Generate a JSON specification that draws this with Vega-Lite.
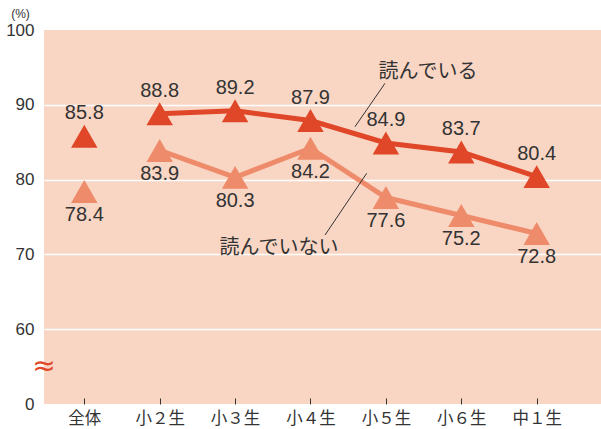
{
  "$schema": "https://vega.github.io/schema/vega-lite/v6.json",
  "width": 557,
  "height": 374,
  "autosize": {"type": "none"},
  "padding": {"left": 44, "top": 30, "right": 0, "bottom": 25},
  "background": "white",
  "view": {"fill": "#F9D6C4", "stroke": null},
  "datasets": {
    "main": [
      {"cat": "全体", "idx": 0, "group": "読んでいる", "value": 85.8},
      {"cat": "小２生", "idx": 1, "group": "読んでいる", "value": 88.8},
      {"cat": "小３生", "idx": 2, "group": "読んでいる", "value": 89.2},
      {"cat": "小４生", "idx": 3, "group": "読んでいる", "value": 87.9},
      {"cat": "小５生", "idx": 4, "group": "読んでいる", "value": 84.9},
      {"cat": "小６生", "idx": 5, "group": "読んでいる", "value": 83.7},
      {"cat": "中１生", "idx": 6, "group": "読んでいる", "value": 80.4},
      {"cat": "全体", "idx": 0, "group": "読んでいない", "value": 78.4},
      {"cat": "小２生", "idx": 1, "group": "読んでいない", "value": 83.9},
      {"cat": "小３生", "idx": 2, "group": "読んでいない", "value": 80.3},
      {"cat": "小４生", "idx": 3, "group": "読んでいない", "value": 84.2},
      {"cat": "小５生", "idx": 4, "group": "読んでいない", "value": 77.6},
      {"cat": "小６生", "idx": 5, "group": "読んでいない", "value": 75.2},
      {"cat": "中１生", "idx": 6, "group": "読んでいない", "value": 72.8}
    ],
    "leaders": [
      {"x": 3.59, "y": 87.07, "x2": 3.988, "y2": 92.87},
      {"x": 3.745, "y": 80.84, "x2": 3.193, "y2": 72.59}
    ],
    "notes": [
      {"x": 4.559, "y": 94.32, "label": "読んでいる"},
      {"x": 2.582, "y": 70.86, "label": "読んでいない"}
    ],
    "brk": [
      {"x": -0.5345, "y": 55.0, "label": "≈"}
    ]
  },
  "encoding": {
    "x": {
      "field": "idx", "type": "quantitative",
      "scale": {"domain": [-0.5345, 6.853], "nice": false, "zero": false},
      "axis": {
        "values": [0, 1, 2, 3, 4, 5, 6],
        "labelExpr": "['全体','小２生','小３生','小４生','小５生','小６生','中１生'][datum.value]",
        "title": null, "grid": false, "domain": false,
        "tickColor": "#333", "tickSize": -6, "tickWidth": 1,
        "labelFont": "Noto Sans CJK JP", "labelFontSize": 16.5, "labelColor": "#333",
        "labelPadding": 12, "labelBaseline": "top"
      }
    },
    "y": {
      "field": "value", "type": "quantitative",
      "scale": {"domain": [50, 100], "nice": false, "zero": false},
      "axis": {
        "values": [50, 60, 70, 80, 90, 100],
        "labelExpr": "datum.value == 50 ? '0' : datum.label",
        "grid": true,
        "gridColor": {"condition": {"test": "datum.value == 50 || datum.value == 100", "value": "transparent"}, "value": "white"},
        "gridWidth": 1.5,
        "domain": false, "ticks": false,
        "labelFont": "Liberation Sans", "labelFontSize": 17, "labelColor": "#333",
        "labelPadding": 10,
        "title": "(%)", "titleAngle": 0, "titleX": -24, "titleY": -17,
        "titleAlign": "center", "titleBaseline": "middle",
        "titleFont": "Liberation Sans", "titleFontSize": 12, "titleFontWeight": "normal", "titleColor": "#333"
      }
    }
  },
  "layer": [
    {
      "data": {"name": "main"},
      "transform": [{"filter": "datum.idx > 0 && datum.group == '読んでいない'"}],
      "mark": {"type": "line", "color": "#EE8B6A", "strokeWidth": 5}
    },
    {
      "data": {"name": "main"},
      "transform": [{"filter": "datum.idx > 0 && datum.group == '読んでいる'"}],
      "mark": {"type": "line", "color": "#E04628", "strokeWidth": 5}
    },
    {
      "data": {"name": "main"},
      "mark": {"type": "point", "shape": "triangle-up", "filled": true, "size": 700, "opacity": 1},
      "encoding": {
        "color": {"field": "group", "type": "nominal",
          "scale": {"domain": ["読んでいない", "読んでいる"], "range": ["#EE8B6A", "#E04628"]},
          "legend": null},
        "order": {"field": "group", "sort": "descending"}
      }
    },
    {
      "data": {"name": "main"},
      "transform": [{"filter": "datum.group == '読んでいる'"}],
      "mark": {"type": "text", "font": "Liberation Sans", "fontSize": 20, "color": "#333", "baseline": "alphabetic", "dy": -17},
      "encoding": {"text": {"field": "value", "type": "quantitative", "format": ".1f"}}
    },
    {
      "data": {"name": "main"},
      "transform": [{"filter": "datum.group == '読んでいない'"}],
      "mark": {"type": "text", "font": "Liberation Sans", "fontSize": 20, "color": "#333", "baseline": "alphabetic", "dy": 29.5},
      "encoding": {"text": {"field": "value", "type": "quantitative", "format": ".1f"}}
    },
    {
      "data": {"name": "leaders"},
      "mark": {"type": "rule", "color": "#333", "strokeWidth": 1},
      "encoding": {
        "x": {"field": "x", "type": "quantitative"},
        "y": {"field": "y", "type": "quantitative"},
        "x2": {"field": "x2"},
        "y2": {"field": "y2"}
      }
    },
    {
      "data": {"name": "notes"},
      "mark": {"type": "text", "font": "Noto Sans CJK JP", "fontSize": 20, "color": "#333", "align": "center", "baseline": "middle"},
      "encoding": {
        "x": {"field": "x", "type": "quantitative"},
        "y": {"field": "y", "type": "quantitative"},
        "text": {"field": "label"}
      }
    },
    {
      "data": {"name": "brk"},
      "mark": {"type": "text", "font": "DejaVu Sans", "fontSize": 28, "color": "#E04628", "align": "center", "baseline": "middle"},
      "encoding": {
        "x": {"field": "x", "type": "quantitative"},
        "y": {"field": "y", "type": "quantitative"},
        "text": {"field": "label"}
      }
    }
  ]
}
